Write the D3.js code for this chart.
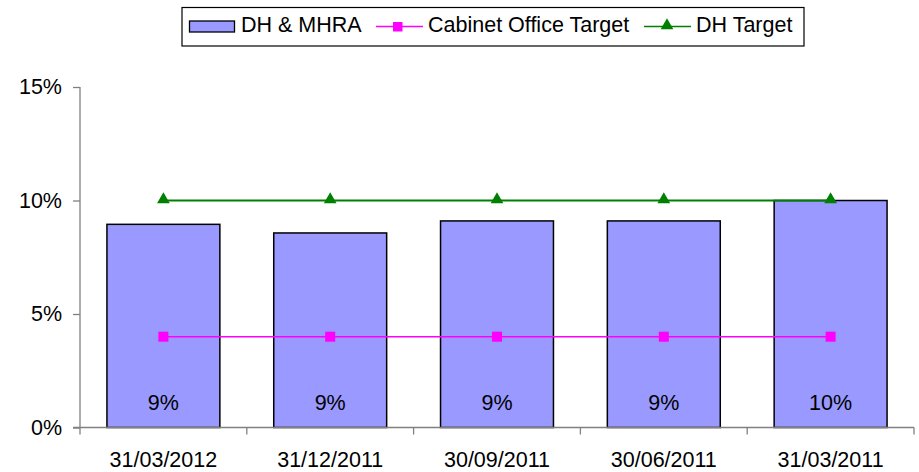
<!DOCTYPE html>
<html>
<head>
<meta charset="utf-8">
<script src="https://cdn.jsdelivr.net/npm/d3@7"></script>
<style>
  html, body { margin: 0; padding: 0; background: #fff; }
  svg { display: block; font-family: "Liberation Sans", Arial, sans-serif; }
</style>
</head>
<body>
<svg id="chart" width="919" height="472"></svg>
<script>
// Quarter-end dates shown along the x axis
const categories = ["31/03/2012", "31/12/2011", "30/09/2011", "30/06/2011", "31/03/2011"];
// DH & MHRA share (percent)
const dhMhra = [8.95, 8.57, 9.1, 9.1, 10.0];
// Target lines (percent)
const cabinetOfficeTarget = [4, 4, 4, 4, 4];
const dhTarget = [10, 10, 10, 10, 10];
// Y axis ticks (percent)
const yTicks = [0, 5, 10, 15];

const svg = d3.select("#chart");
const plot = { left: 80, right: 914, top: 87, bottom: 427.5 };
const fontSize = 21.5;

const x = d3.scaleBand()
  .domain(categories)
  .range([plot.left, plot.right])
  .paddingInner(0.323)
  .paddingOuter(0.1615);

const y = d3.scaleLinear()
  .domain([0, 15])
  .range([plot.bottom, plot.top]);

const axisColor = "#808080";

// Bars
svg.append("g")
  .selectAll("rect")
  .data(dhMhra)
  .join("rect")
  .attr("x", (d, i) => x(categories[i]))
  .attr("y", d => y(d))
  .attr("width", x.bandwidth())
  .attr("height", d => y(0) - y(d))
  .attr("fill", "#9999ff")
  .attr("stroke", "#000")
  .attr("stroke-width", 1.5);

// Y axis
const yAxis = d3.axisLeft(y)
  .tickValues(yTicks)
  .tickFormat(d => d + "%")
  .tickSize(7)
  .tickPadding(11);
const yg = svg.append("g")
  .attr("transform", `translate(${plot.left},0)`)
  .call(yAxis);
yg.select(".domain").remove();
yg.append("line")
  .attr("x1", 0).attr("x2", 0)
  .attr("y1", plot.top).attr("y2", plot.bottom + 7)
  .attr("stroke", axisColor).attr("stroke-width", 1.3);
yg.selectAll(".tick line").attr("stroke", axisColor).attr("stroke-width", 1.3);
yg.selectAll(".tick text")
  .attr("font-size", fontSize)
  .attr("font-family", "Liberation Sans, Arial, sans-serif")
  .attr("fill", "#000");

// X axis: line with ticks at category boundaries
const xg = svg.append("g");
xg.append("line")
  .attr("x1", plot.left - 7).attr("x2", plot.right)
  .attr("y1", plot.bottom).attr("y2", plot.bottom)
  .attr("stroke", axisColor).attr("stroke-width", 1.3);
const step = x.step();
xg.selectAll("line.bound")
  .data(categories)
  .join("line")
  .attr("class", "bound")
  .attr("x1", (d, i) => plot.left + step * (i + 1))
  .attr("x2", (d, i) => plot.left + step * (i + 1))
  .attr("y1", plot.bottom)
  .attr("y2", plot.bottom + 7)
  .attr("stroke", axisColor).attr("stroke-width", 1.3);
xg.selectAll("text")
  .data(categories)
  .join("text")
  .attr("x", d => x(d) + x.bandwidth() / 2)
  .attr("y", 467)
  .attr("text-anchor", "middle")
  .attr("font-size", fontSize)
  .text(d => d);

// Bar value labels
svg.append("g")
  .selectAll("text")
  .data(dhMhra)
  .join("text")
  .attr("x", (d, i) => x(categories[i]) + x.bandwidth() / 2)
  .attr("y", 410)
  .attr("text-anchor", "middle")
  .attr("font-size", fontSize)
  .text(d => Math.round(d) + "%");

const cx = (d, i) => x(categories[i]) + x.bandwidth() / 2;
const line = d3.line().x(cx).y(d => y(d));

// Cabinet Office target line with square markers
svg.append("path")
  .datum(cabinetOfficeTarget)
  .attr("d", line)
  .attr("fill", "none")
  .attr("stroke", "#ff00ff")
  .attr("stroke-width", 1.5);
svg.append("g")
  .selectAll("rect")
  .data(cabinetOfficeTarget)
  .join("rect")
  .attr("x", (d, i) => cx(d, i) - 5)
  .attr("y", d => y(d) - 5)
  .attr("width", 10)
  .attr("height", 10)
  .attr("fill", "#ff00ff");

// DH target line with triangle markers
const tri = d3.symbol().type(d3.symbolTriangle).size(70);
svg.append("path")
  .datum(dhTarget)
  .attr("d", line)
  .attr("fill", "none")
  .attr("stroke", "#008000")
  .attr("stroke-width", 2);
svg.append("g")
  .selectAll("path")
  .data(dhTarget)
  .join("path")
  .attr("d", tri)
  .attr("transform", (d, i) => `translate(${cx(d, i)},${y(d) - 1})`)
  .attr("fill", "#008000");

// Legend
const lg = svg.append("g");
lg.append("rect")
  .attr("x", 182).attr("y", 7.5)
  .attr("width", 622).attr("height", 38.5)
  .attr("fill", "#fff")
  .attr("stroke", "#000")
  .attr("stroke-width", 1.2);
lg.append("rect")
  .attr("x", 189.5).attr("y", 21)
  .attr("width", 45).attr("height", 11)
  .attr("fill", "#9999ff")
  .attr("stroke", "#000")
  .attr("stroke-width", 1.3);
lg.append("text")
  .attr("x", 241).attr("y", 32)
  .attr("font-size", fontSize)
  .text("DH & MHRA");
lg.append("line")
  .attr("x1", 376).attr("x2", 423)
  .attr("y1", 26.5).attr("y2", 26.5)
  .attr("stroke", "#ff00ff").attr("stroke-width", 1.5);
lg.append("rect")
  .attr("x", 393).attr("y", 22)
  .attr("width", 9.5).attr("height", 9.5)
  .attr("fill", "#ff00ff");
lg.append("text")
  .attr("x", 428).attr("y", 32)
  .attr("font-size", fontSize)
  .text("Cabinet Office Target");
lg.append("line")
  .attr("x1", 644).attr("x2", 691)
  .attr("y1", 26.5).attr("y2", 26.5)
  .attr("stroke", "#008000").attr("stroke-width", 1.5);
lg.append("path")
  .attr("d", tri)
  .attr("transform", "translate(667,25.5)")
  .attr("fill", "#008000");
lg.append("text")
  .attr("x", 696).attr("y", 32)
  .attr("font-size", fontSize)
  .text("DH Target");
</script>
</body>
</html>
